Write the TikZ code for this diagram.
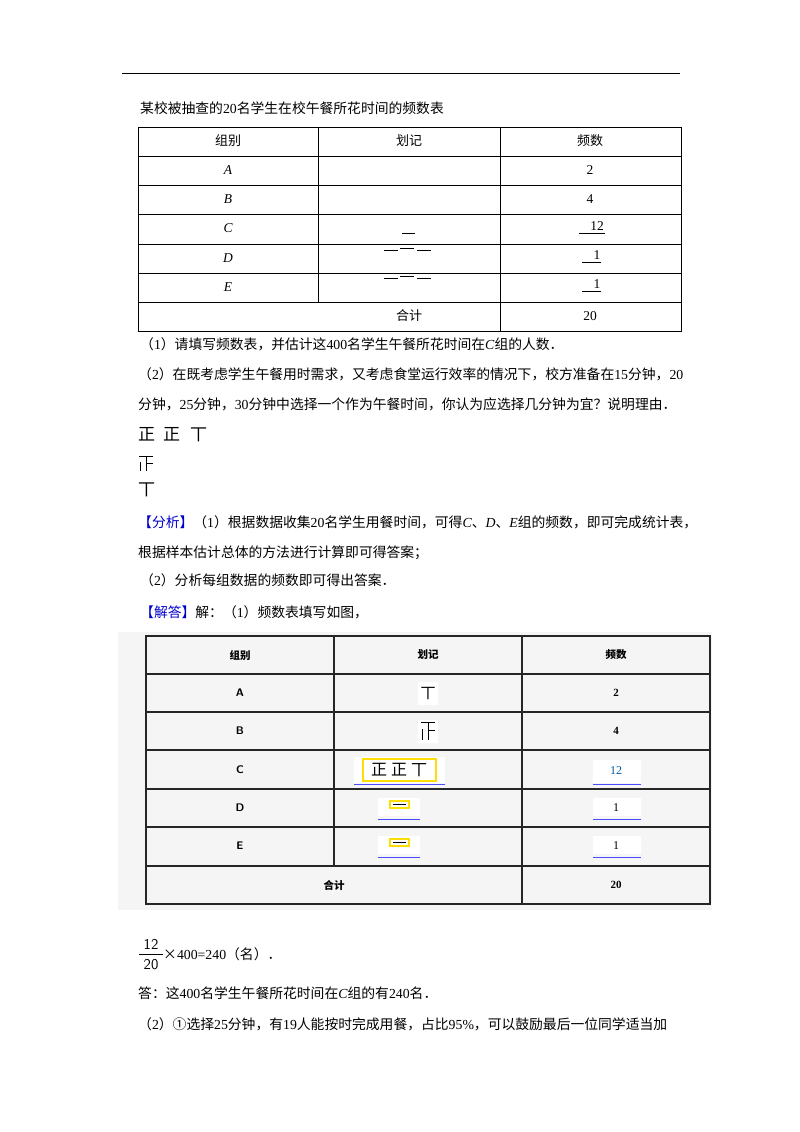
\documentclass[tikz,border=0pt]{standalone}
\usepackage{fontspec}
\setmainfont{Liberation Serif}
\newfontfamily\cjk{Noto Sans CJK SC}
\newfontfamily\hei{Noto Sans CJK SC}
\newcommand\ii[1]{\textrm{\itshape #1}}
\begin{document}
\begin{tikzpicture}[x=1pt,y=-1pt,
  txt/.style={anchor=west,inner sep=0pt,font=\fontsize{13.8}{14}\selectfont\cjk},
  cell/.style={inner sep=0pt,font=\fontsize{13}{13}\selectfont\cjk},
  cell2/.style={inner sep=0pt,font=\fontsize{10.5}{11}\selectfont\hei\bfseries},
  ul/.style={draw=blue!70!black,line width=1pt}]
\useasboundingbox (0,0) rectangle (800,1132);
\fill[white] (0,0) rectangle (800,1132);
\draw[line width=0.9pt] (122,73) -- (680,73);
\node[txt] (title) at (140,108) {某校被抽查的\textrm{20}名学生在校午餐所花时间的频数表};
% table 1
\draw[line width=0.9pt] (138,127) rectangle (681,331);
\foreach \y in {156,185,214,244,273,302} \draw[line width=0.8pt] (138,\y) -- (681,\y);
\draw[line width=0.8pt] (318,127) -- (318,302);
\draw[line width=0.8pt] (500,127) -- (500,331);
\node[cell] (h1) at (228,141) {组别};
\node[cell] (h2) at (409,141) {划记};
\node[cell] (h3) at (590,141) {频数};
\foreach \l/\y in {A/170,B/199,C/228,D/258,E/287}
  \node[cell,font=\fontsize{13.5}{13}\selectfont\itshape] at (228,\y) {\l};
\node[cell,font=\fontsize{13.5}{13}\selectfont] (f2) at (590,170) {2};
\node[cell,font=\fontsize{13.5}{13}\selectfont] (f4) at (590,199) {4};
\node[cell,font=\fontsize{13.5}{13}\selectfont] (f12) at (597,226) {12};
\node[cell,font=\fontsize{13.5}{13}\selectfont] (f1a) at (597,255) {1};
\node[cell,font=\fontsize{13.5}{13}\selectfont] (f1b) at (597,284) {1};
\draw (579,233) -- (605,233);
\draw (582,262) -- (601,262);
\draw (582,291) -- (601,291);
\draw (402,233) -- (415,233);
\foreach \y in {250,278}{\draw (384,\y) -- (398,\y); \draw (400,\y-2) -- (414,\y-2); \draw (417,\y) -- (431,\y);}
\node[cell] (tot) at (409,316) {合计};
\node[cell,font=\fontsize{13.5}{13}\selectfont] (t20) at (590,316) {20};
% text
\node[txt] (q1) at (140,344) {（\textrm{1}）请填写频数表，并估计这\textrm{400}名学生午餐所花时间在\ii{C}组的人数．};
\node[txt] (q2) at (138,374) {（\textrm{2}）在既考虑学生午餐用时需求，又考虑食堂运行效率的情况下，校方准备在\textrm{15}分钟，\textrm{20}};
\node[txt] (q3) at (138,404) {分钟，\textrm{25}分钟，\textrm{30}分钟中选择一个作为午餐时间，你认为应选择几分钟为宜？说明理由．};
\node[txt,font=\fontsize{17}{17}\selectfont\cjk] (ta) at (138,435) {正\hspace{8pt}正\hspace{10pt}丅};
\draw[line width=0.9pt] (139,456) -- (153,456) (146,456) -- (146,471) (146,463) -- (153,463) (140,462) -- (140,471);
\node[txt,font=\fontsize{17}{17}\selectfont\cjk] (tc) at (138,490) {丅};
\node[txt] (a1) at (138,522) {\textcolor{blue!80!black}{【分析】}（\textrm{1}）根据数据收集\textrm{20}名学生用餐时间，可得\ii{C}、\ii{D}、\ii{E}组的频数，即可完成统计表，};
\node[txt] (a2) at (138,553) {根据样本估计总体的方法进行计算即可得答案；};
\node[txt] (a3) at (140,580) {（\textrm{2}）分析每组数据的频数即可得出答案．};
\node[txt] (a4) at (140,612) {\textcolor{blue!80!black}{【解答】}解：（\textrm{1}）频数表填写如图，};
% table 2
\fill[black!4] (118,632) rectangle (712,910);
\draw[line width=1.2pt,black!85] (146,636) rectangle (710,904);
\foreach \y in {674,712,750,789,827,866} \draw[line width=1.2pt,black!85] (146,\y) -- (710,\y);
\draw[line width=1.2pt,black!85] (334,636) -- (334,866);
\draw[line width=1.2pt,black!85] (522,636) -- (522,904);
\node[cell2] (g1) at (240,655) {组别};
\node[cell2] (g2) at (428,655) {划记};
\node[cell2] (g3) at (616,655) {频数};
\foreach \l/\y in {A/693,B/731,C/770,D/808,E/846}
  \node[cell2,font=\fontsize{11}{11}\selectfont\sffamily\bfseries] at (240,\y) {\l};
\fill[white] (418,682) rectangle (438,705);
\node[cell2,font=\fontsize{15}{15}\selectfont\cjk] (p1) at (428,693) {丅};
\fill[white] (418,720) rectangle (438,743);
\draw[line width=1pt] (421,722) -- (435,722) (428,722) -- (428,740) (428,730) -- (435,730) (422,729) -- (422,740);
\fill[white] (354,757) rectangle (445,783);
\draw[yellow!80!orange,line width=1.3pt] (363,759) rectangle (436,781);
\node[cell2,font=\fontsize{16}{16}\selectfont\cjk] at (399,770) {正\hspace{4pt}正\hspace{4pt}丅};
\draw[blue!70!white,line width=0.9pt] (354,784) -- (445,784);
\foreach \y in {808,846}{
  \fill[white] (378,\y-10) rectangle (420,\y+8);
  \draw[yellow!80!orange,line width=1.3pt] (390,\y-7) rectangle (409,\y);
  \draw (393,\y-3.5) -- (406,\y-3.5);
  \draw[blue!70!white,line width=0.9pt] (378,\y+11) -- (420,\y+11);
  \fill[white] (593,\y-10) rectangle (641,\y+8);
  \draw[blue!70!white,line width=0.9pt] (593,\y+11) -- (641,\y+11);
  \node[cell2,font=\fontsize{12}{12}\selectfont] at (616,\y) {1};}
\fill[white] (593,760) rectangle (641,783);
\draw[blue!70!white,line width=0.9pt] (593,784) -- (641,784);
\node[cell2,font=\fontsize{12}{12}\selectfont,text=teal!70!blue] at (616,771) {12};
\node[cell2,font=\fontsize{11}{11}\selectfont\bfseries] at (616,693) {2};
\node[cell2,font=\fontsize{11}{11}\selectfont\bfseries] at (616,731) {4};
\node[cell2] (sum) at (334,885) {合计};
\node[cell2,font=\fontsize{11}{11}\selectfont\bfseries] at (616,885) {20};
% bottom
\node[inner sep=0pt,font=\fontsize{15}{15}\selectfont\sffamily] (fn) at (151,944) {12};
\node[inner sep=0pt,font=\fontsize{15}{15}\selectfont\sffamily] (fd) at (151,965) {20};
\draw[line width=0.8pt] (139,954) -- (163,954);
\node[txt] (fr2) at (163,954) {×\textrm{400=240}（名）．};
\node[txt] (ans) at (138,993) {答：这\textrm{400}名学生午餐所花时间在\ii{C}组的有\textrm{240}名．};
\node[txt] (q22) at (138,1024) {（\textrm{2}）①选择\textrm{25}分钟，有\textrm{19}人能按时完成用餐，占比\textrm{95\%}，可以鼓励最后一位同学适当加};
\end{tikzpicture}
\end{document}
